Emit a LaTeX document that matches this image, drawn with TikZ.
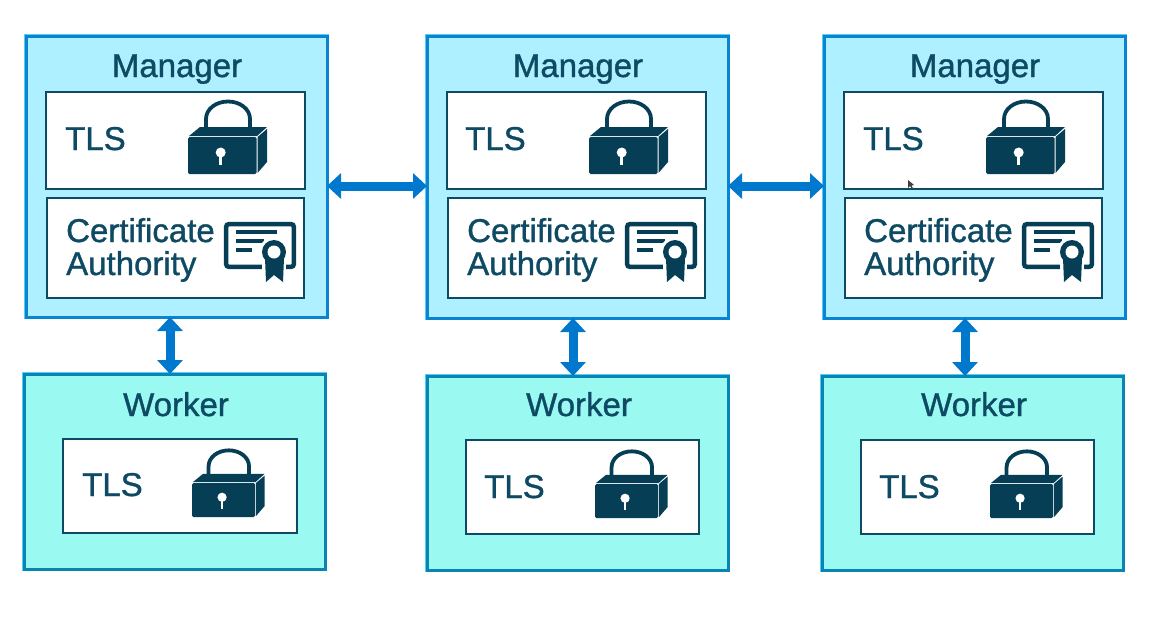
\documentclass[tikz,border=0pt]{standalone}
\usepackage{fontspec}
\setmainfont{Liberation Sans}
\newfontfamily\lblfont{Liberation Sans}[RawFeature={embolden=1.1}]
\usetikzlibrary{arrows.meta}
\definecolor{mgrfill}{HTML}{AEF0FF}
\definecolor{wrkfill}{HTML}{9AFAF2}
\definecolor{mgrline}{HTML}{0A84D0}
\definecolor{wrkline}{HTML}{0A84B4}
\definecolor{halo}{HTML}{50D0F5}
\definecolor{inkc}{HTML}{0E4A63}
\definecolor{lockc}{HTML}{063F55}
\definecolor{arrowc}{HTML}{0078CE}
\newcommand{\boxnode}[6]{%
  \pgfmathsetmacro{\bw}{#5-#3}\pgfmathsetmacro{\bh}{#6-#4}%
  \pgfmathsetmacro{\bx}{(#3+#5)/2}\pgfmathsetmacro{\by}{(#4+#6)/2}%
  \node[#2,minimum width=\bw pt,minimum height=\bh pt] (#1) at (\bx,\by) {};}
\tikzset{
  x=1pt,y=-1pt,
  mgrbox/.style={draw=mgrline,fill=mgrfill,line width=3pt,inner sep=0pt,outer sep=0pt,preaction={draw=halo,line width=4pt}},
  wrkbox/.style={draw=wrkline,fill=wrkfill,line width=3pt,inner sep=0pt,outer sep=0pt,preaction={draw=halo,line width=4pt}},
  innerbox/.style={draw=inkc,fill=white,line width=1.4pt,inner sep=0pt,outer sep=0pt},
  title/.style={text=inkc,font=\lblfont\fontsize{33}{34}\selectfont,inner sep=0pt,anchor=base},
  label/.style={text=inkc,font=\lblfont\fontsize{33}{34}\selectfont,inner sep=0pt,anchor=base west,align=left},
  link/.style={draw=arrowc,line width=9pt,{Triangle[length=14pt,width=25pt]}-{Triangle[length=14pt,width=25pt]},shorten <=0pt,shorten >=0pt},
  lockpic/.pic={
    % shackle
    \draw[lockc,line width=3.8pt,line cap=round] (18,-4) -- (18,-18)
      .. controls (18,-28) and (28,-35.5) .. (40,-35.5)
      .. controls (52,-35.5) and (62,-28) .. (62,-18) -- (62,-4);
    % top face
    \fill[lockc] (1,-1) -- (12,-10) -- (79,-10) -- (69,-1) -- cycle;
    % front
    \fill[lockc,rounded corners=1.5pt] (0,0) rectangle (68.5,37);
    % side
    \fill[lockc] (69.5,0) -- (79,-8) -- (79,25) -- (69.5,36) -- cycle;
    % keyhole
    \fill[white] (32.7,15.5) circle[radius=5];
    \fill[white] (31.3,16) rectangle (34.1,28);
  },
  certpic/.pic={
    \draw[lockc,line width=4.5pt,rounded corners=2.5pt] (2.2,2.2) rectangle (69.8,44.8);
    \draw[lockc,line width=4pt] (12,10) -- (53,10);
    \draw[lockc,line width=4pt] (12,19) -- (40,19);
    \draw[lockc,line width=4pt] (12,27.5) -- (28,27.5);
    \fill[white] (50,30) circle[radius=15];
    \fill[white] (38,38) rectangle (62,60);
    \fill[lockc] (41,36) -- (60,36) -- (59,60) -- (50,53) -- (42,60) -- cycle;
    \fill[lockc] (50,30) circle[radius=12];
    \fill[white] (50,30) circle[radius=6.5];
  }
}
\begin{document}
\begin{tikzpicture}
\useasboundingbox[fill=white] (0,0) rectangle (1162,616);
% Managers
\boxnode{m1}{mgrbox}{26}{36}{327}{317}
\boxnode{m2}{mgrbox}{427}{36}{728}{318}
\boxnode{m3}{mgrbox}{824}{36}{1125}{318}
% Workers
\boxnode{w1}{wrkbox}{24}{374}{325}{569}
\boxnode{w2}{wrkbox}{427}{376}{728}{570}
\boxnode{w3}{wrkbox}{822}{376}{1123}{570}
% TLS panels
\boxnode{mt1}{innerbox}{46}{92}{305}{189}
\boxnode{mt2}{innerbox}{447}{92}{706}{189}
\boxnode{mt3}{innerbox}{844}{92}{1103}{189}
% CA panels
\boxnode{mc1}{innerbox}{47}{198}{304}{298}
\boxnode{mc2}{innerbox}{448}{198}{705}{298}
\boxnode{mc3}{innerbox}{845}{198}{1102}{298}
% Worker TLS panels
\boxnode{wt1}{innerbox}{63}{439}{297}{533}
\boxnode{wt2}{innerbox}{466}{440}{699}{534}
\boxnode{wt3}{innerbox}{861}{440}{1094}{534}
% Titles
\node[title] (tm1) at (177,77) {Manager};
\node[title] (tm2) at (578,77) {Manager};
\node[title] (tm3) at (975,77) {Manager};
\node[title] (tw1) at (176,416) {Worker};
\node[title] (tw2) at (579,416) {Worker};
\node[title] (tw3) at (974,416) {Worker};
% TLS labels
\node[label] (lm1) at (65,150) {TLS};
\node[label] (lm2) at (465,150) {TLS};
\node[label] (lm3) at (863,150) {TLS};
\node[label] (lw1) at (82,496) {TLS};
\node[label] (lw2) at (484,498) {TLS};
\node[label] (lw3) at (879,498) {TLS};
% CA labels
\node[label] (ca1) at (66,242) {Certificate};
\node[label] (cb1) at (66,275) {Authority};
\node[label] (ca2) at (467,242) {Certificate};
\node[label] (cb2) at (467,275) {Authority};
\node[label] (ca3) at (864,242) {Certificate};
\node[label] (cb3) at (864,275) {Authority};
% Locks
\pic at (188,137) {lockpic};
\pic at (589,137) {lockpic};
\pic at (986,137) {lockpic};
\pic[scale=0.92] at (192,483) {lockpic};
\pic[scale=0.92] at (595,484) {lockpic};
\pic[scale=0.92] at (990,484) {lockpic};
% Certificates
\pic at (224,222) {certpic};
\pic at (625,222) {certpic};
\pic at (1022,222) {certpic};
% Mouse pointer
\fill[black!75] (908,180) -- (908,188) -- (910,186) -- (912,189) -- (913,188.5) -- (911.5,185.5) -- (914,185) -- cycle;
% Connectors
\coordinate (h) at (0,186);
\coordinate (v1) at (170,340);
\coordinate (v2) at (573,340);
\coordinate (v3) at (965,340);
\draw[link] (m1.east |- h) -- (m2.west |- h);
\draw[link] (m2.east |- h) -- (m3.west |- h);
\draw[link] (v1 |- m1.south) -- (v1 |- w1.north);
\draw[link] (v2 |- m2.south) -- (v2 |- w2.north);
\draw[link] (v3 |- m3.south) -- (v3 |- w3.north);
\end{tikzpicture}
\end{document}
